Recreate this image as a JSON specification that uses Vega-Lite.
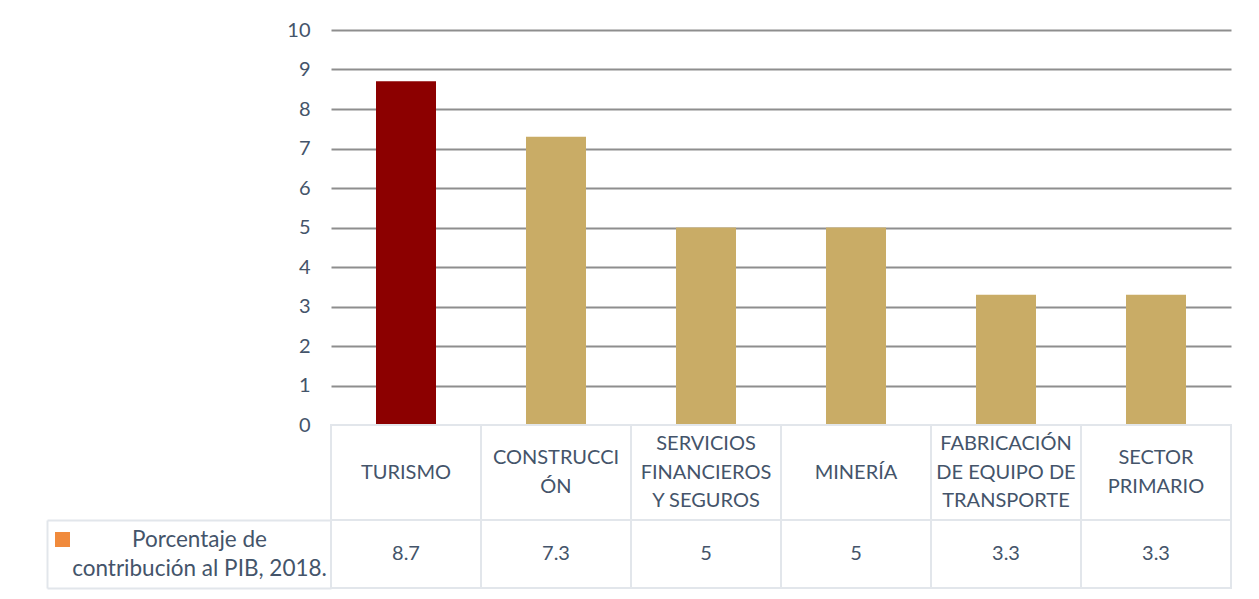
{
  "$schema": "https://vega.github.io/schema/vega-lite/v6.json",
  "background": "white",
  "padding": {"top": 19, "left": 46, "right": 5, "bottom": 5},
  "width": 900,
  "height": 558,
  "config": {
    "font": "Lato",
    "view": {"stroke": null},
    "text": {"lineBreak": "\n"}
  },
  "datasets": {
    "sectores": [
      {"sector": "TURISMO", "etiqueta": "TURISMO", "valor": 8.7},
      {"sector": "CONSTRUCCIÓN", "etiqueta": "CONSTRUCCI\nÓN", "valor": 7.3},
      {"sector": "SERVICIOS FINANCIEROS Y SEGUROS", "etiqueta": "SERVICIOS\nFINANCIEROS\nY SEGUROS", "valor": 5},
      {"sector": "MINERÍA", "etiqueta": "MINERÍA", "valor": 5},
      {"sector": "FABRICACIÓN DE EQUIPO DE TRANSPORTE", "etiqueta": "FABRICACIÓN\nDE EQUIPO DE\nTRANSPORTE", "valor": 3.3},
      {"sector": "SECTOR PRIMARIO", "etiqueta": "SECTOR\nPRIMARIO", "valor": 3.3}
    ],
    "serie": [
      {"serie": "Porcentaje de contribución al PIB, 2018."}
    ]
  },
  "resolve": {
    "scale": {"x": "independent", "y": "independent", "color": "independent"},
    "axis": {"x": "independent", "y": "independent"},
    "legend": {"color": "independent"}
  },
  "layer": [
    {
      "data": {"name": "sectores"},
      "mark": {"type": "bar"},
      "encoding": {
        "x": {
          "field": "sector", "type": "nominal", "sort": null,
          "scale": {"paddingInner": 0.6, "paddingOuter": 0.3},
          "axis": null
        },
        "y": {
          "field": "valor", "type": "quantitative",
          "scale": {"domain": [0, 10], "range": [395, 0], "nice": false},
          "axis": {
            "orient": "left",
            "values": [0, 1, 2, 3, 4, 5, 6, 7, 8, 9, 10],
            "title": null,
            "grid": true,
            "gridColor": {"condition": {"test": "datum.value === 0", "value": "transparent"}, "value": "#8E8E8E"},
            "gridWidth": 2,
            "domain": false,
            "ticks": false,
            "labelPadding": 21,
            "labelFontSize": 20,
            "labelColor": "#44546A"
          }
        },
        "color": {
          "field": "sector", "type": "nominal", "sort": null,
          "scale": {
            "domain": ["TURISMO", "CONSTRUCCIÓN", "SERVICIOS FINANCIEROS Y SEGUROS", "MINERÍA", "FABRICACIÓN DE EQUIPO DE TRANSPORTE", "SECTOR PRIMARIO"],
            "range": ["#8C0000", "#C9AC66", "#C9AC66", "#C9AC66", "#C9AC66", "#C9AC66"]
          },
          "legend": null
        }
      }
    },
    {
      "data": {"name": "sectores"},
      "encoding": {
        "x": {
          "field": "sector", "type": "nominal", "sort": null,
          "scale": {"paddingInner": 0, "paddingOuter": 0},
          "axis": null
        },
        "y": {
          "datum": "categorías", "type": "nominal",
          "scale": {"range": [395, 490], "paddingInner": 0, "paddingOuter": 0},
          "axis": null
        }
      },
      "layer": [
        {
          "mark": {"type": "rect", "fill": "transparent", "stroke": "#E2E6EB", "strokeWidth": 2}
        },
        {
          "transform": [{"filter": "length(split(datum.etiqueta, '\\n')) === 1"}],
          "mark": {"type": "text", "fontSize": 20, "color": "#44546A", "lineHeight": 28.5, "dy": 0},
          "encoding": {"text": {"field": "etiqueta"}}
        },
        {
          "transform": [{"filter": "length(split(datum.etiqueta, '\\n')) === 2"}],
          "mark": {"type": "text", "fontSize": 20, "color": "#44546A", "lineHeight": 28.5, "dy": -14.25},
          "encoding": {"text": {"field": "etiqueta"}}
        },
        {
          "transform": [{"filter": "length(split(datum.etiqueta, '\\n')) === 3"}],
          "mark": {"type": "text", "fontSize": 20, "color": "#44546A", "lineHeight": 28.5, "dy": -28.5},
          "encoding": {"text": {"field": "etiqueta"}}
        }
      ]
    },
    {
      "data": {"name": "sectores"},
      "encoding": {
        "x": {
          "field": "sector", "type": "nominal", "sort": null,
          "scale": {"paddingInner": 0, "paddingOuter": 0},
          "axis": null
        },
        "y": {
          "datum": "Porcentaje de\ncontribución al PIB, 2018.", "type": "nominal",
          "scale": {"range": [490, 558], "paddingInner": 0, "paddingOuter": 0},
          "axis": {
            "orient": "left",
            "title": null,
            "domain": false,
            "grid": false,
            "ticks": true,
            "tickBand": "extent",
            "tickSize": 284,
            "tickColor": "#E2E6EB",
            "tickWidth": 2,
            "labelAlign": "center",
            "labelBaseline": "middle",
            "labelPadding": -152,
            "labelOffset": -14.5,
            "labelFontSize": 22.5,
            "labelColor": "#44546A",
            "labelLineHeight": 29,
            "labelLimit": 0,
            "labelExpr": "split(datum.label, '\\n')"
          }
        }
      },
      "layer": [
        {
          "mark": {"type": "rect", "fill": "transparent", "stroke": "#E2E6EB", "strokeWidth": 2}
        },
        {
          "mark": {"type": "text", "fontSize": 20, "color": "#44546A"},
          "encoding": {"text": {"field": "valor", "type": "quantitative"}}
        }
      ]
    },
    {
      "data": {"name": "serie"},
      "mark": {"type": "square", "opacity": 0},
      "encoding": {
        "y": {
          "datum": "leyenda", "type": "nominal",
          "scale": {"range": [490, 558]},
          "axis": {
            "orient": "left", "offset": 284, "title": null,
            "domain": true, "domainColor": "#E2E6EB", "domainWidth": 2,
            "labels": false, "ticks": false, "grid": false
          }
        },
        "color": {
          "field": "serie", "type": "nominal",
          "scale": {"range": ["#F08A3C"]},
          "legend": {
            "orient": "none", "legendX": -276, "legendY": 502,
            "title": null, "labelExpr": "''", "padding": 0,
            "symbolType": "square", "symbolSize": 225, "symbolStrokeWidth": 0,
            "symbolOpacity": 1, "symbolFillColor": "#F08A3C"
          }
        }
      }
    }
  ]
}
